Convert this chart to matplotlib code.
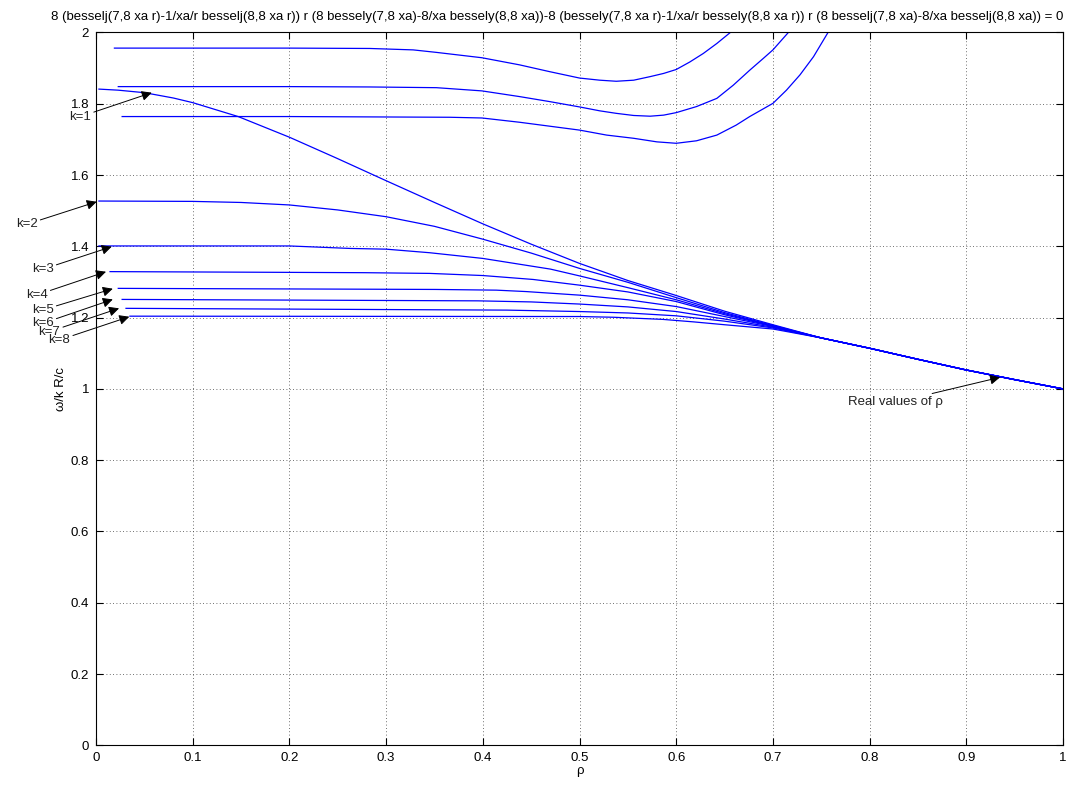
import numpy as np
import matplotlib
matplotlib.use('Agg')
import matplotlib.pyplot as plt

plt.rcParams['font.family'] = ['Liberation Sans', 'DejaVu Sans']

# curves: (rho, omega/k R/c)
k1_x = [0.003, 0.023, 0.046, 0.058, 0.08, 0.1, 0.147, 0.2, 0.249, 0.3, 0.35, 0.4, 0.45, 0.5, 0.55, 0.6, 0.65, 0.7]
k1_y = [1.841, 1.838, 1.832, 1.827, 1.816, 1.803, 1.764, 1.706, 1.647, 1.584, 1.523, 1.463, 1.406, 1.352, 1.304, 1.262, 1.218, 1.180]

k2_x = [0.003, 0.1, 0.15, 0.2, 0.25, 0.3, 0.35, 0.4, 0.45, 0.5, 0.55, 0.6, 0.65, 0.7]
k2_y = [1.527, 1.526, 1.523, 1.516, 1.502, 1.483, 1.456, 1.420, 1.381, 1.338, 1.299, 1.256, 1.214, 1.178]

k3_x = [0.003, 0.2, 0.263, 0.3, 0.345, 0.4, 0.47, 0.5, 0.55, 0.6, 0.65, 0.7]
k3_y = [1.401, 1.401, 1.394, 1.392, 1.382, 1.366, 1.336, 1.317, 1.284, 1.250, 1.211, 1.177]

k4_x = [0.0145, 0.278, 0.345, 0.4, 0.452, 0.5, 0.55, 0.6, 0.65, 0.7]
k4_y = [1.329, 1.326, 1.324, 1.318, 1.307, 1.291, 1.272, 1.245, 1.208, 1.176]

k5_x = [0.023, 0.351, 0.414, 0.445, 0.5, 0.55, 0.6, 0.65, 0.7]
k5_y = [1.282, 1.279, 1.277, 1.273, 1.263, 1.250, 1.231, 1.203, 1.175]

k6_x = [0.027, 0.395, 0.45, 0.5, 0.55, 0.6, 0.65, 0.7]
k6_y = [1.251, 1.247, 1.244, 1.238, 1.230, 1.217, 1.196, 1.173]

k7_x = [0.031, 0.425, 0.5, 0.55, 0.6, 0.65, 0.7]
k7_y = [1.226, 1.221, 1.217, 1.213, 1.205, 1.190, 1.171]

k8_x = [0.035, 0.5, 0.535, 0.586, 0.618, 0.65, 0.7]
k8_y = [1.204, 1.203, 1.201, 1.195, 1.188, 1.180, 1.168]

# shared tail of all k curves towards rho = 1
tail_x = [0.75, 0.8, 0.85, 0.9, 0.95, 1.0]
tail_y = [1.143, 1.114, 1.083, 1.053, 1.026, 1.000]

u1_x = [0.019, 0.1, 0.2, 0.283, 0.328, 0.352, 0.399, 0.438, 0.469, 0.5, 0.521, 0.538, 0.556,
        0.573, 0.587, 0.6, 0.614, 0.628, 0.642, 0.656]
u1_y = [1.956, 1.956, 1.956, 1.955, 1.951, 1.944, 1.929, 1.909, 1.890, 1.872, 1.866, 1.863, 1.866,
        1.876, 1.885, 1.896, 1.917, 1.941, 1.969, 2.0]

u2_x = [0.023, 0.2, 0.283, 0.352, 0.399, 0.438, 0.469, 0.5, 0.521, 0.538, 0.556, 0.573, 0.587,
        0.6, 0.621, 0.642, 0.659, 0.676, 0.69, 0.7, 0.716]
u2_y = [1.848, 1.848, 1.847, 1.845, 1.836, 1.820, 1.806, 1.791, 1.780, 1.773, 1.767, 1.765, 1.768,
        1.775, 1.792, 1.815, 1.852, 1.894, 1.927, 1.951, 2.0]

u3_x = [0.027, 0.2, 0.366, 0.399, 0.438, 0.469, 0.5, 0.528, 0.556, 0.58, 0.6, 0.621, 0.642,
        0.662, 0.676, 0.7, 0.714, 0.728, 0.742, 0.757]
u3_y = [1.764, 1.764, 1.762, 1.760, 1.748, 1.737, 1.726, 1.712, 1.703, 1.693, 1.689, 1.696, 1.712,
        1.740, 1.764, 1.801, 1.838, 1.881, 1.932, 2.0]

k_labels = ['k=1', 'k=2', 'k=3', 'k=4', 'k=5', 'k=6', 'k=7', 'k=8']
label_text_xy = [(-0.0165, 1.7635), (-0.0717, 1.4617), (-0.0551, 1.3355), (-0.0613, 1.2634),
                 (-0.0551, 1.2213), (-0.0551, 1.184), (-0.0483, 1.1605), (-0.038, 1.137)]
label_head_xy = [(0.0576, 1.831), (0.0007, 1.525), (0.0162, 1.399), (0.0103, 1.3287),
                 (0.0173, 1.281), (0.0173, 1.251), (0.0238, 1.226), (0.0344, 1.2025)]

title = ('8 (besselj(7,8 xa r)-1/xa/r besselj(8,8 xa r)) r (8 bessely(7,8 xa)-8/xa bessely(8,8 xa))'
         '-8 (bessely(7,8 xa r)-1/xa/r bessely(8,8 xa r)) r (8 besselj(7,8 xa)-8/xa besselj(8,8 xa)) = 0')

fig = plt.figure(figsize=(10.73, 7.87), dpi=100)
ax = fig.add_axes([0.0895, 0.0529, 0.9012, 0.9059])

k_curves = [(k1_x, k1_y), (k2_x, k2_y), (k3_x, k3_y), (k4_x, k4_y),
            (k5_x, k5_y), (k6_x, k6_y), (k7_x, k7_y), (k8_x, k8_y)]
for xs, ys in k_curves:
    ax.plot(xs + tail_x, ys + tail_y, color='blue', lw=0.9)

for xs, ys in [(u1_x, u1_y), (u2_x, u2_y), (u3_x, u3_y)]:
    ax.plot(xs, ys, color='blue', lw=0.9)

ax.set_xlim(0, 1)
ax.set_ylim(0, 2)
ax.set_xticks(np.arange(0, 1.01, 0.1))
ax.set_yticks(np.arange(0, 2.01, 0.2))
ax.set_xticklabels(['0', '0.1', '0.2', '0.3', '0.4', '0.5', '0.6', '0.7', '0.8', '0.9', '1'])
ax.set_yticklabels(['0', '0.2', '0.4', '0.6', '0.8', '1', '1.2', '1.4', '1.6', '1.8', '2'])
ax.tick_params(direction='in', top=True, right=True, length=5, width=0.8, labelsize=9.5, pad=5, colors='k')
ax.grid(True, color='0.25', linestyle=(0, (1, 3)), lw=0.6)
for s in ax.spines.values():
    s.set_linewidth(0.8)

ax.set_xlabel('ρ', fontsize=9.5)
ax.xaxis.set_label_coords(0.5, -0.027)
ax.set_ylabel('ω/k R/c', fontsize=9.5)
ax.yaxis.set_label_coords(-0.03, 0.5)

fig.text(0.519, 0.978, title, ha='center', va='center', fontsize=9.5)

arrow = dict(arrowstyle='-|>', color='k', lw=0.7, mutation_scale=15, shrinkA=0, shrinkB=0)
for lab, txy, hxy in zip(k_labels, label_text_xy, label_head_xy):
    ax.annotate(lab, xy=hxy, xytext=txy, ha='center', va='center', fontsize=9.5,
                color='#222222', arrowprops=arrow, annotation_clip=False)

ax.annotate('Real values of ρ', xy=(0.9349, 1.0325), xytext=(0.8266, 0.9624),
            ha='center', va='center', fontsize=9.5, color='#222222', arrowprops=arrow)

plt.savefig('out.png', dpi=100)
